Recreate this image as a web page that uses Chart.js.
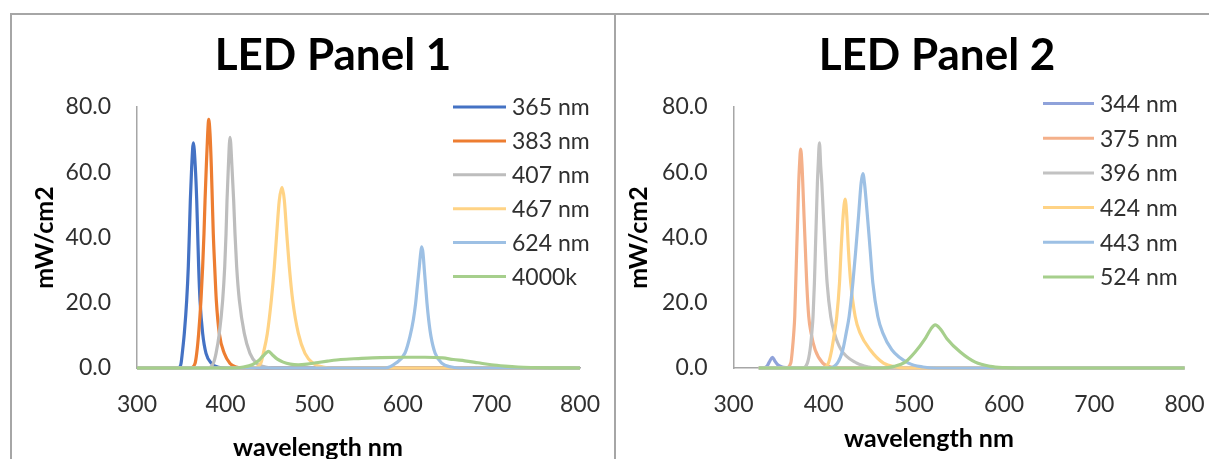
<!DOCTYPE html>
<html>
<head>
<meta charset="utf-8">
<script src="https://cdn.jsdelivr.net/npm/chart.js@4.4.1/dist/chart.umd.min.js"></script>
<style>
  html, body { margin: 0; padding: 0; background: #fff; overflow: hidden; }
  body { width: 1209px; height: 459px; position: relative; }
  .frame { position: absolute; left: 10px; top: 13px; width: 1230px; height: 480px;
           border-top: 2px solid #a6a6a6; border-left: 2px solid #a6a6a6; }
  .divider { position: absolute; left: 614px; top: 13px; width: 2px; height: 470px; background: #a6a6a6; }
  canvas { position: absolute; top: 15px; }
  #panel1 { left: 12px; }
  #panel2 { left: 616px; }
</style>
</head>
<body>
<div class="frame"></div>
<div class="divider"></div>
<canvas id="panel1" width="602" height="460"></canvas>
<canvas id="panel2" width="600" height="460"></canvas>
<script>
// axis ticks
const wavelengthTicks = [300, 400, 500, 600, 700, 800];
const powerTicks = [0, 20, 40, 60, 80];

// LED Panel 1: [wavelength nm, mW/cm2]
const panel1Labels = ['365 nm', '383 nm', '407 nm', '467 nm', '624 nm', '4000k'];
const panel1Colors = ['#4472C4', '#ED7D31', '#BDBDBD', '#FFD385', '#9DC0E4', '#A6CF8C'];
const led365 = [[300,0],[345,0],[348.5,0.4],[349.7,1.4],[351.1,4.5],[353.4,10.6],[356.1,20.8],[357.9,31],[359.1,41.2],[360.2,51.4],[361.7,61.6],[363.6,69],[365.8,61.6],[367.4,51.4],[368.5,41.2],[369.6,31],[371.1,20.8],[374.1,10.6],[377.9,4.5],[384.3,1.4],[392,0.2],[400,0],[800,0]];
const led383 = [[300,0],[360,0],[365.5,1.4],[367.4,4.5],[369.6,10.6],[372.2,20.8],[374.1,31],[375.6,41.2],[376.8,51.4],[378.2,61.6],[379.8,71.9],[380.9,76.2],[382.4,71.9],[383.9,61.6],[385,51.4],[386.1,41.2],[387.7,31],[389.5,20.8],[392.9,10.6],[398.5,4.5],[405,1.4],[412,0.3],[420,0],[800,0]];
const led407 = [[300,0],[380,0],[386.1,1.4],[389.2,4.5],[392.9,10.6],[396.7,20.8],[399,31],[400.5,41.2],[401.6,51.4],[403.1,61.6],[405,70.7],[407.2,61.6],[409.1,51.4],[410.6,41.2],[412.5,31],[415.5,20.8],[421.1,10.6],[427.5,4.5],[435.1,1.4],[445,0.3],[455,0],[800,0]];
const led467 = [[300,0],[430,0],[439.6,1.4],[442.6,4.5],[447.1,10.6],[451.6,20.8],[455,31],[457.7,41.2],[460.6,51.4],[463.7,55.4],[466.3,51.4],[469,41.2],[471.9,31],[475.7,20.8],[482.1,10.6],[489.6,4.5],[499,1.4],[510,0.3],[520,0],[800,0]];
const led624 = [[300,0],[580,0],[592.3,1.5],[602.5,4.6],[608.1,9.7],[611.9,14.8],[614.5,19.9],[616.4,25],[618.3,30.1],[620.2,35.2],[621.3,37.1],[622.8,35.2],[624.3,30.1],[625.8,25],[627.3,19.9],[629.2,14.8],[631.8,9.7],[636.4,4.6],[643.9,1.5],[655,0.3],[665,0],[800,0]];
const led4000k = [[300,0],[410,0],[420,0.3],[430,1],[437,2.2],[442,3.6],[448.5,5.1],[453,4],[458,2.8],[465,1.8],[473,1.2],[482,1],[492,1.2],[502,1.6],[515,2.1],[530,2.6],[550,2.9],[575,3.2],[600,3.3],[625,3.3],[645,3.1],[657,2.6],[670,2.2],[685,1.6],[700,1],[715,0.6],[730,0.3],[745,0.15],[765,0.05],[800,0]];

// LED Panel 2
const panel2Labels = ['344 nm', '375 nm', '396 nm', '424 nm', '443 nm', '524 nm'];
const panel2Colors = ['#8FA2DA', '#F4B08A', '#C2C2C2', '#FFD385', '#9DC0E4', '#A6CF8C'];
const led344 = [[328,0],[333,0],[337,0.5],[340,2],[343.1,3.3],[346,2.1],[349,1],[353,0.4],[358,0.1],[365,0],[800,0]];
const led375 = [[328,0],[358,0],[363.5,1.5],[365.3,5.6],[366.8,10.7],[367.9,15.8],[369,26],[370.1,36.3],[371.2,46.5],[372.3,56.7],[373.1,61.8],[374.5,67.1],[376,61.8],[376.8,56.7],[378.2,46.5],[379.7,36.3],[381.2,26],[383.4,15.8],[386,10.7],[390.5,5.6],[399,1.5],[410,0.2],[420,0],[800,0]];
const led396 = [[328,0],[376,0],[381.9,1.5],[384.9,5.6],[386.8,10.7],[388.2,15.8],[389.7,26],[390.8,36.3],[391.9,46.5],[393,56.7],[393.8,61.8],[395.3,69],[396.7,61.8],[397.9,56.7],[399.7,46.5],[401.6,36.3],[403.8,26],[407.8,15.8],[411.9,10.7],[419.3,5.6],[436.7,1.5],[450,0.3],[460,0],[800,0]];
const led424 = [[328,0],[398,0],[405.2,1.5],[408.9,5.6],[411.9,10.7],[414.5,15.8],[417.5,26],[419.3,36.3],[421.5,46.5],[423.8,51.8],[425.6,46.5],[427.4,36.3],[430,26],[434.9,15.8],[440.4,10.7],[451.5,5.6],[466.3,1.5],[480,0.3],[490,0],[800,0]];
const led443 = [[328,0],[405,0],[415.2,1.5],[421.2,5.6],[424.9,10.7],[428.2,15.8],[432.3,26],[435.6,36.3],[438.6,46.5],[441.5,56.7],[443.4,59.6],[445.2,56.7],[448.5,46.5],[451.5,36.3],[454.5,26],[460,15.8],[465.6,10.7],[475.5,5.6],[494,1.5],[510,0.3],[525,0],[800,0]];
const led524 = [[328,0],[465,0],[478,0.5],[490.3,1.8],[501.4,4.9],[512.5,9],[518.9,12],[523.6,13.2],[529.2,12],[536.6,9],[551.4,4.9],[568,1.8],[584.7,0.5],[600,0.1],[615,0],[800,0]];

Chart.defaults.font.family = 'Lato';
Chart.defaults.color = '#303030';

// title, x-axis title and the line legend, drawn on the canvas
const panelText = {
  id: 'panelText',
  afterDraw(chart, args, o) {
    const ctx = chart.ctx;
    const area = chart.chartArea;
    ctx.save();
    ctx.fillStyle = '#000';
    ctx.textAlign = 'center';
    ctx.textBaseline = 'alphabetic';
    ctx.font = 'bold 44px Lato';
    ctx.fillText(o.title, o.titleX, o.titleY);
    ctx.textBaseline = 'middle';
    ctx.font = 'bold 25px Lato';
    ctx.fillText(o.xTitle, o.xTitleX, o.xTitleY);

    ctx.textAlign = 'left';
    ctx.font = '23px Lato';
    ctx.fillStyle = '#303030';
    ctx.lineWidth = 3;
    chart.data.datasets.forEach((ds, i) => {
      const y = area.top + o.legendTop + i * o.legendStep;
      const x0 = area.right - o.legendFromRight;
      ctx.strokeStyle = ds.borderColor;
      ctx.beginPath();
      ctx.moveTo(x0, y);
      ctx.lineTo(x0 + o.legendLine, y);
      ctx.stroke();
      ctx.fillText(ds.label, x0 + o.legendLine + 6, y + 1);
    });
    ctx.restore();
  }
};

function makeChart(id, labels, colors, series, cfg) {
  const datasets = series.map((pts, i) => ({
    label: labels[i],
    data: pts,
    borderColor: colors[i],
    backgroundColor: colors[i],
    borderWidth: 3.2,
    pointRadius: 0,
    fill: false,
    cubicInterpolationMode: 'monotone',
    order: series.length - i,
    clip: 6
  }));

  return new Chart(document.getElementById(id), {
    type: 'line',
    data: { datasets: datasets },
    plugins: [panelText],
    options: {
      responsive: false,
      animation: false,
      events: [],
      layout: { padding: { top: 92, right: cfg.padRight, left: 0, bottom: 0 } },
      scales: {
        x: {
          type: 'linear',
          min: 300,
          max: 800,
          afterBuildTicks: s => { s.ticks = wavelengthTicks.map(v => ({ value: v })); },
          afterFit: s => { s.height = 107; s.paddingLeft = 0; s.paddingRight = 0; },
          grid: { display: false, drawTicks: false },
          border: { display: true, color: '#a6a6a6', width: 1.5 },
          ticks: { font: { size: 23 }, padding: 23, maxRotation: 0 }
        },
        y: {
          min: 0,
          max: 80,
          afterBuildTicks: s => { s.ticks = powerTicks.map(v => ({ value: v })); },
          afterFit: s => { s.width = cfg.yWidth; s.paddingTop = 0; s.paddingBottom = 0; },
          grid: { display: false, drawTicks: false },
          border: { display: true, color: '#a6a6a6', width: 1.5 },
          ticks: { font: { size: 23 }, padding: cfg.yTickPad, callback: v => v.toFixed(1) },
          title: {
            display: true,
            text: 'mW/cm2',
            color: '#000',
            font: { size: 25, weight: 'bold' },
            padding: { top: cfg.yTitlePad, bottom: 0 }
          }
        }
      },
      plugins: {
        legend: { display: false },
        tooltip: { enabled: false },
        panelText: cfg.text
      }
    }
  });
}

makeChart('panel1', panel1Labels, panel1Colors,
  [led365, led383, led407, led467, led624, led4000k],
  { padRight: 34, yWidth: 125, yTickPad: 26, yTitlePad: 17.5,
    text: { title: 'LED Panel 1', titleX: 321, titleY: 55,
            xTitle: 'wavelength nm', xTitleX: 306, xTitleY: 433,
            legendTop: 0, legendStep: 33.9, legendFromRight: 127, legendLine: 53 } });

makeChart('panel2', panel2Labels, panel2Colors,
  [led344, led375, led396, led424, led443, led524],
  { padRight: 31.5, yWidth: 117.5, yTickPad: 26, yTitlePad: 8,
    text: { title: 'LED Panel 2', titleX: 321, titleY: 55,
            xTitle: 'wavelength nm', xTitleX: 313, xTitleY: 424,
            legendTop: -3.5, legendStep: 34.7, legendFromRight: 141.5, legendLine: 51 } });
</script>
</body>
</html>
